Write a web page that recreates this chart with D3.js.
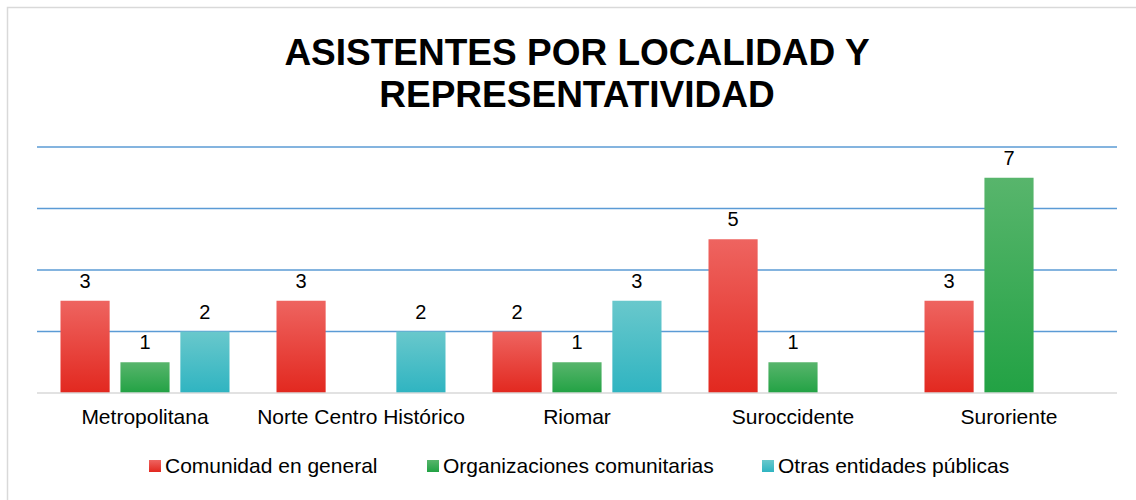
<!DOCTYPE html>
<html>
<head>
<meta charset="utf-8">
<script src="https://cdn.jsdelivr.net/npm/d3@7"></script>
<style>
  body { margin: 0; background: #fff; }
  svg { display: block; font-family: "Liberation Sans", Arial, sans-serif; }
</style>
</head>
<body>
<svg id="chart" width="1136" height="500"></svg>
<script>
const categories = ["Metropolitana", "Norte Centro Histórico", "Riomar", "Suroccidente", "Suroriente"];
const seriesNames = ["Comunidad en general", "Organizaciones comunitarias", "Otras entidades públicas"];
const comunidad = [3, 3, 2, 5, 3];
const organizaciones = [1, null, 1, 1, 7];
const otras = [2, 2, 3, null, null];
const gridTicks = [2, 4, 6, 8];

// top/bottom gradient colours per series
const colours = [
  { top: "#ee6460", bottom: "#e2281f" },
  { top: "#58b56c", bottom: "#22a244" },
  { top: "#69c8cc", bottom: "#2fb4c1" }
];
const seriesValues = [comunidad, organizaciones, otras];

const svg = d3.select("#chart");
const defs = svg.append("defs");
colours.forEach((c, i) => {
  const g = defs.append("linearGradient")
    .attr("id", "grad" + i)
    .attr("x1", 0).attr("y1", 0).attr("x2", 0).attr("y2", 1);
  g.append("stop").attr("offset", "0%").attr("stop-color", c.top);
  g.append("stop").attr("offset", "100%").attr("stop-color", c.bottom);
});

// chart border (only top/left visible in the picture)
svg.append("rect")
  .attr("x", 7.5).attr("y", 7.5)
  .attr("width", 1140).attr("height", 500)
  .attr("fill", "none")
  .attr("stroke", "#d9d9d9")
  .attr("stroke-width", 1.5);

const x0 = d3.scaleBand().domain(categories).range([37, 1117]);
const x1 = d3.scaleBand().domain([0, 1, 2]).range([0, 169]).paddingInner(0.18);
const y = d3.scaleLinear().domain([0, 8]).range([393, 147]);

// title
const title = svg.append("text")
  .attr("text-anchor", "middle")
  .attr("font-weight", "bold")
  .attr("font-size", 37)
  .attr("fill", "#000");
title.append("tspan").attr("x", 577).attr("y", 65).text("ASISTENTES POR LOCALIDAD Y");
title.append("tspan").attr("x", 577).attr("y", 107).text("REPRESENTATIVIDAD");

// gridlines
svg.append("g").selectAll("line").data(gridTicks).join("line")
  .attr("x1", 37).attr("x2", 1117)
  .attr("y1", d => y(d)).attr("y2", d => y(d))
  .attr("stroke", "#5b9bd5")
  .attr("stroke-width", 1.5);

// bars
const rows = [];
categories.forEach((cat, ci) => {
  seriesValues.forEach((vals, si) => {
    if (vals[ci] != null) rows.push({ cat, si, v: vals[ci] });
  });
});
const groupOffset = (x0.bandwidth() - 169) / 2;

svg.append("g").selectAll("rect").data(rows).join("rect")
  .attr("x", d => x0(d.cat) + groupOffset + x1(d.si))
  .attr("y", d => y(d.v))
  .attr("width", x1.bandwidth())
  .attr("height", d => y(0) - y(d.v))
  .attr("fill", d => "url(#grad" + d.si + ")");

svg.append("g").selectAll("text").data(rows).join("text")
  .attr("x", d => x0(d.cat) + groupOffset + x1(d.si) + x1.bandwidth() / 2)
  .attr("y", d => y(d.v) - 13)
  .attr("text-anchor", "middle")
  .attr("font-size", 20)
  .attr("fill", "#000")
  .text(d => d.v);

// baseline
svg.append("line")
  .attr("x1", 37).attr("x2", 1117)
  .attr("y1", y(0)).attr("y2", y(0))
  .attr("stroke", "#d9d9d9")
  .attr("stroke-width", 1.5);

// category axis
const xAxis = d3.axisBottom(x0).tickSize(0).tickPadding(16);
const axisG = svg.append("g")
  .attr("transform", "translate(0," + y(0) + ")")
  .call(xAxis);
axisG.select(".domain").remove();
axisG.selectAll("text")
  .attr("font-size", 21)
  .attr("font-family", "Liberation Sans, Arial, sans-serif")
  .attr("fill", "#000");

// legend
const legendX = [149, 427, 762];
const legend = svg.append("g").selectAll("g").data(seriesNames).join("g")
  .attr("transform", (d, i) => "translate(" + legendX[i] + ",460)");
legend.append("rect")
  .attr("width", 12).attr("height", 12)
  .attr("fill", (d, i) => "url(#grad" + i + ")");
legend.append("text")
  .attr("x", 16).attr("y", 13)
  .attr("font-size", 21)
  .attr("fill", "#000")
  .text(d => d);
</script>
</body>
</html>
